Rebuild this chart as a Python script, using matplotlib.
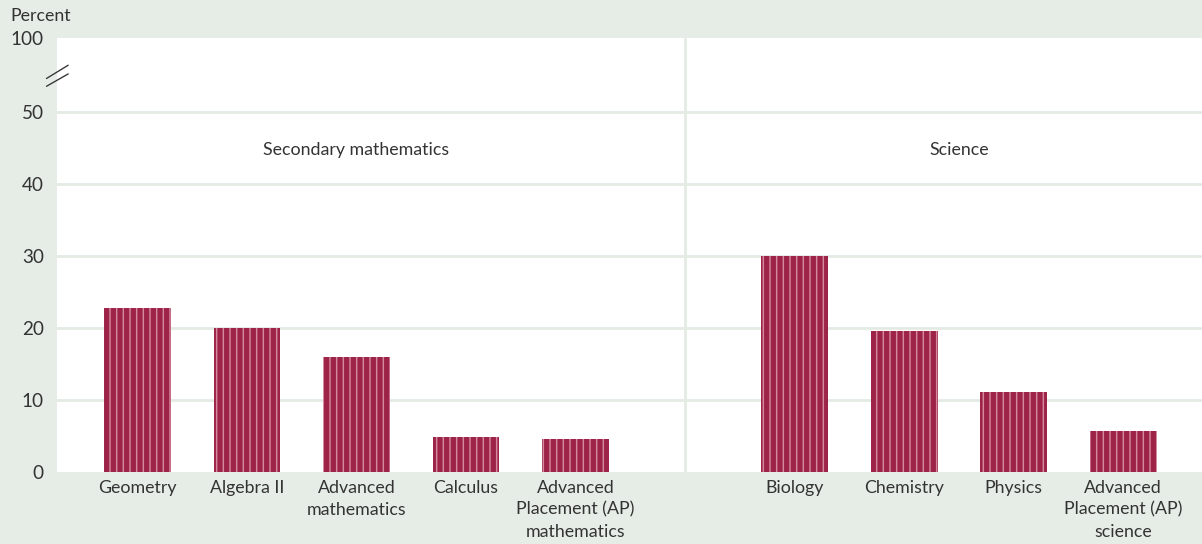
import numpy as np
import matplotlib.pyplot as plt

# data
math_labels = ["Geometry", "Algebra II", "Advanced\nmathematics", "Calculus",
               "Advanced\nPlacement (AP)\nmathematics"]
math_values = [22.8, 20.0, 16.0, 4.8, 4.65]
sci_labels = ["Biology", "Chemistry", "Physics", "Advanced\nPlacement (AP)\nscience"]
sci_values = [30.0, 19.6, 11.1, 5.7]
group_names = ["Secondary mathematics", "Science"]

bg = "#e6ede6"
bar_col = "#9e2348"
txt = "#333333"

plt.rcParams['font.family'] = ['Lato', 'DejaVu Sans']
plt.rcParams['hatch.linewidth'] = 1.3
plt.rcParams['hatch.color'] = "#d48a9e"

dpi = 80
fig = plt.figure(figsize=(1202 / dpi, 544 / dpi), dpi=dpi, facecolor=bg)
ax = fig.add_axes([57 / 1202, 72 / 544, 1 - 57 / 1202, (472 - 38) / 544])
ax.set_facecolor("white")

x_math = np.arange(len(math_values))
x_sci = np.arange(len(sci_values)) + len(math_values) + 1
xs = np.concatenate([x_math, x_sci])
vals = math_values + sci_values
labels = math_labels + sci_labels

ax.bar(xs, vals, width=0.61, color=bar_col, edgecolor="#d48a9e", linewidth=0,
       hatch="||", zorder=3)

# broken axis: 100 drawn above a gap
top_pos = 60.3
ax.set_ylim(0, top_pos)
ax.set_xlim(-0.735, 9.72)
ax.set_yticks([0, 10, 20, 30, 40, 50, top_pos])
ax.set_yticklabels(["0", "10", "20", "30", "40", "50", "100"])
for y in [10, 20, 30, 40, 50]:
    ax.axhline(y, color="#e3ebe3", lw=2.5, zorder=1)
ax.axvline(len(math_values), color="#e3ebe3", lw=2.5, zorder=1)

ax.set_xticks(xs)
ax.set_xticklabels(labels, fontsize=16, color=txt, linespacing=1.45, va="top")
ax.tick_params(axis="x", length=0, pad=7)
ax.tick_params(axis="y", length=0, pad=12, labelsize=17, labelcolor=txt)
for s in ax.spines.values():
    s.set_visible(False)

ax.text(np.mean(x_math), 44.8, group_names[0], ha="center", va="center",
        fontsize=16, color=txt)
ax.text(np.mean(x_sci), 44.8, group_names[1], ha="center", va="center",
        fontsize=16, color=txt)

# break marks on the y axis
for y0, y1 in [(0.889, 0.917), (0.907, 0.937)]:
    ax.plot([-0.009, 0.0096], [y0, y1], transform=ax.transAxes,
            color=txt, lw=1.2, clip_on=False)

fig.text(10 / 1202, 1 - 16 / 544, "Percent", fontsize=16, color=txt,
         ha="left", va="center")

fig.savefig("out.png", dpi=dpi, facecolor=bg)
